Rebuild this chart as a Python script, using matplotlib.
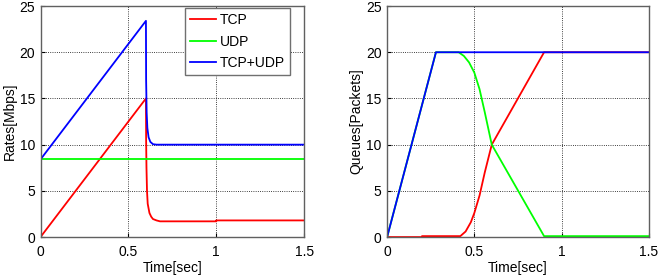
import matplotlib.pyplot as plt

# Left panel: rates
rate_t_tcp = [0, 0.6, 0.601, 0.603, 0.606, 0.61, 0.62, 0.63, 0.64, 0.66, 0.68, 1.0, 1.0, 1.5]
rate_tcp = [0, 15.0, 10.5, 7.5, 5.0, 3.6, 2.6, 2.2, 1.95, 1.8, 1.7, 1.7, 1.8, 1.8]
rate_t_udp = [0, 1.5]
rate_udp = [8.4, 8.4]
rate_t_sum = [0, 0.6, 0.601, 0.604, 0.608, 0.615, 0.625, 0.64, 0.66, 1.5]
rate_sum = [8.4, 23.4, 17.0, 13.5, 11.8, 10.8, 10.3, 10.05, 10.0, 10.0]

# Right panel: queues
q_t_tcp = [0, 0.2, 0.2, 0.42, 0.45, 0.48, 0.5, 0.53, 0.56, 0.6, 0.9, 1.5]
q_tcp = [0, 0, 0.1, 0.1, 0.6, 1.6, 2.6, 4.5, 7.0, 10.0, 20.0, 20.0]
q_t_udp = [0, 0.28, 0.41, 0.44, 0.47, 0.5, 0.53, 0.56, 0.6, 0.9, 1.5]
q_udp = [0, 20.0, 20.0, 19.6, 18.9, 17.8, 16.0, 13.5, 10.0, 0.1, 0.1]
q_t_sum = [0, 0.28, 1.5]
q_sum = [0, 20.0, 20.0]

plt.rcParams['font.family'] = ['Liberation Sans', 'DejaVu Sans']
plt.rcParams['font.size'] = 10

fig = plt.figure(figsize=(6.64, 2.75), dpi=100)
ax1 = fig.add_axes([0.061, 0.138, 0.397, 0.840])
ax2 = fig.add_axes([0.583, 0.138, 0.394, 0.840])

lw = 1.3
ax1.plot(rate_t_tcp, rate_tcp, color='#ff0000', lw=lw, label='TCP')
ax1.plot(rate_t_udp, rate_udp, color='#00ff00', lw=lw, label='UDP')
ax1.plot(rate_t_sum, rate_sum, color='#0000ff', lw=lw, label='TCP+UDP')
ax1.set_ylabel('Rates[Mbps]', labelpad=2)
leg = ax1.legend(loc='upper right', bbox_to_anchor=(0.947, 0.991), fancybox=False,
                 framealpha=1, edgecolor='#707070', borderaxespad=0, borderpad=0.35,
                 handlelength=1.9, handletextpad=0.3, labelspacing=0.55)
leg.get_frame().set_linewidth(1.0)

ax2.plot(q_t_tcp, q_tcp, color='#ff0000', lw=lw)
ax2.plot(q_t_udp, q_udp, color='#00ff00', lw=lw)
ax2.plot(q_t_sum, q_sum, color='#0000ff', lw=lw)
ax2.set_ylabel('Queues[Packets]', labelpad=2)

for ax in (ax1, ax2):
    ax.set_xlim(0, 1.5)
    ax.set_ylim(0, 25)
    ax.set_xticks([0, 0.5, 1, 1.5])
    ax.set_xticklabels(['0', '0.5', '1', '1.5'])
    ax.set_yticks([0, 5, 10, 15, 20, 25])
    ax.set_xlabel('Time[sec]', labelpad=1)
    ax.grid(True, color='black', linestyle=':', linewidth=0.6)
    ax.tick_params(direction='in', length=3)
    ax.tick_params(axis='x', pad=6)
    ax.tick_params(axis='y', pad=4)
    for s in ax.spines.values():
        s.set_color('#606060')
        s.set_linewidth(1.0)

fig.savefig('out.png', dpi=100)
